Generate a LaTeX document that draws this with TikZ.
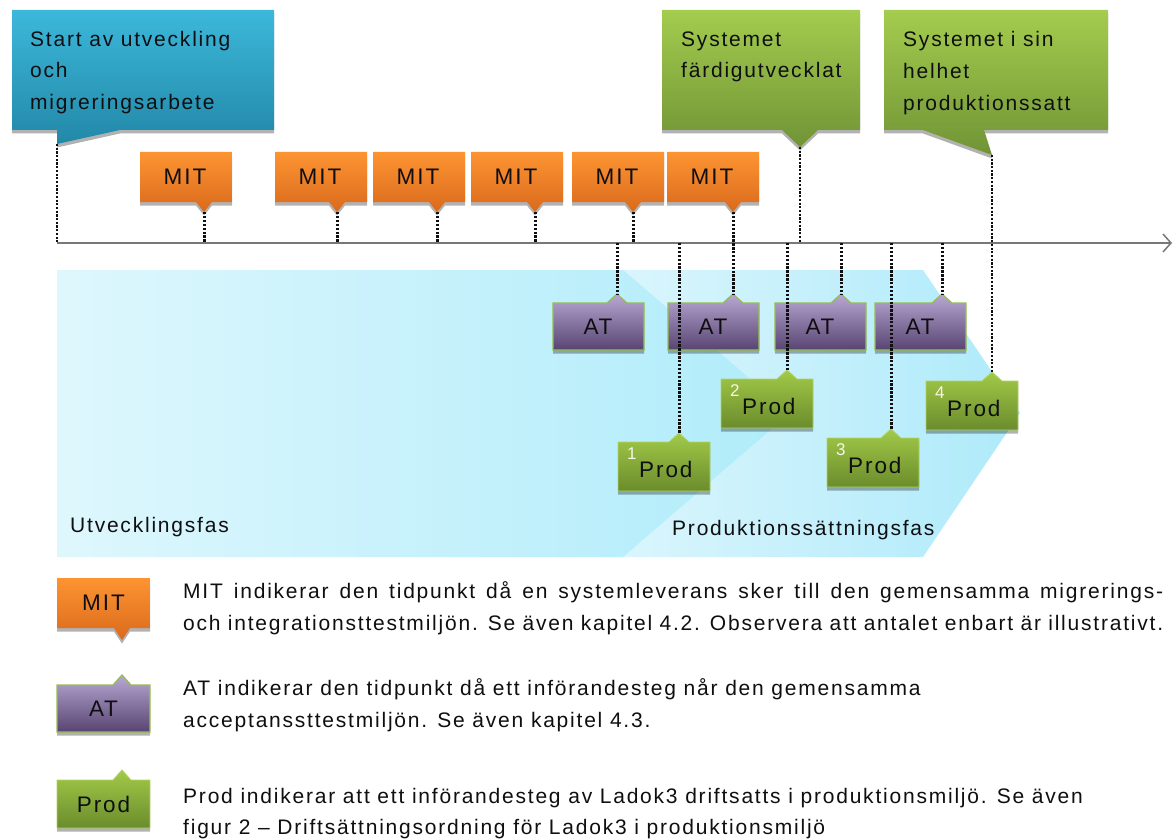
\documentclass[tikz,border=0pt]{standalone}
\usepackage{fontspec}
\setmainfont{Liberation Sans}[LetterSpace=8.5]
\usetikzlibrary{arrows.meta,shadows}

\definecolor{blT}{RGB}{60,184,218}
\definecolor{blB}{RGB}{34,136,168}
\definecolor{grT}{RGB}{164,204,78}
\definecolor{grB}{RGB}{112,148,54}
\definecolor{orT}{RGB}{253,148,50}
\definecolor{orB}{RGB}{218,106,28}
\definecolor{puT}{RGB}{184,168,210}
\definecolor{puB}{RGB}{88,68,114}
\definecolor{puE}{RGB}{150,190,80}
\definecolor{prT}{RGB}{162,202,72}
\definecolor{prB}{RGB}{106,140,44}
\definecolor{prE}{RGB}{176,212,100}
\definecolor{bgL}{RGB}{222,247,253}
\definecolor{bgR}{RGB}{176,236,250}
\definecolor{bgtL}{RGB}{220,246,253}
\definecolor{bgtR}{RGB}{174,234,250}
\definecolor{ink}{RGB}{15,15,18}
\definecolor{axc}{RGB}{120,120,120}
\definecolor{numc}{RGB}{246,246,232}

\newcommand{\ftext}{\fontsize{21}{32}\selectfont}
\newcommand{\flbl}{\fontsize{22.5}{22.5}\selectfont}
\newcommand{\fnum}{\fontsize{17}{17}\selectfont}

% #1 style, #2 left, #3 top, #4 right, #5 bottom, #6 base-left x, #7 tip x, #8 tip y, #9 base-right x
\newcommand{\tagdown}[9]{\path[#1] (#2,#3) -- (#4,#3) -- (#4,#5) -- (#9,#5) -- (#7,#8) -- (#6,#5) -- (#2,#5) -- cycle;}
\newcommand{\tagup}[9]{\path[#1] (#2,#5) -- (#2,#3) -- (#6,#3) -- (#7,#8) -- (#9,#3) -- (#4,#3) -- (#4,#5) -- cycle;}

\tikzset{
  shad/.style={drop shadow={shadow xshift=0pt,shadow yshift=-3.5pt,fill=black,opacity=0.3}},
  calloutB/.style={shad, top color=blT, bottom color=blB},
  calloutG/.style={shad, top color=grT, bottom color=grB},
  mitshape/.style={shad, top color=orT, bottom color=orB},
  atshape/.style={shad, top color=puT, bottom color=puB, draw=puE, line width=1.2pt},
  prodshape/.style={shad, top color=prT, bottom color=prB, draw=prE, line width=0.8pt},
  txt/.style={font=\ftext, text=ink, inner sep=0pt, anchor=base west},
  lbl/.style={font=\flbl, text=ink, inner sep=0pt},
  num/.style={font=\fnum, text=numc, inner sep=0pt, anchor=base west},
  dotline/.style={draw=ink, line width=3pt, dash pattern=on 2.4pt off 1.5pt},
  thindot/.style={draw=ink, line width=2.3pt, dash pattern=on 2.2pt off 1.5pt},
  axisline/.style={draw=axc, line width=1.5pt},
}

\newcommand{\mitmark}[3]{%
  \tagdown{mitshape}{#2}{152}{#2+92}{202}{#3-8}{#3}{212}{#3+8}
  \node[lbl] (#1) at (#2+45,177) {MIT};
  \coordinate (#1t) at (#3,212);}
\newcommand{\atmark}[3]{%
  \tagup{atshape}{#2}{303}{#2+91}{350}{#3-10}{#3}{294}{#3+10}
  \node[lbl] (#1) at (#2+45,327) {AT};
  \coordinate (#1t) at (#3,294);}
\newcommand{\prodmark}[5]{%
  \tagup{prodshape}{#2}{#3}{#2+92}{#3+49}{#4-10}{#4}{#3-9}{#4+10}
  \node[num] (#1n) at (#2+9,#3+17) {#5};
  \node[txt,font=\flbl] (#1) at (#2+21,#3+35) {Prod};
  \coordinate (#1t) at (#4,#3-9);}

\begin{document}
\begin{tikzpicture}[x=1pt,y=-1pt]
\useasboundingbox (0,0) rectangle (1173,840);
\fill[white] (0,0) rectangle (1173,840);

% phase backgrounds
\path[left color=bgtL, right color=bgtR] (600,270) -- (923,270) -- (1020,413) -- (923,557) -- (600,557) -- cycle;
\path[left color=bgL, right color=bgR] (57,270) -- (623,270) -- (790,413) -- (623,557) -- (57,557) -- cycle;
\node[txt] (utv) at (70,532) {Utvecklingsfas};
\node[txt] (prodfas) at (672,535) {Produktionssättningsfas};

% time axis
\coordinate (axL) at (57,243);
\coordinate (axR) at (1172,243);
\draw[axisline, -{Straight Barb[length=8pt,width=18pt]}] (axL) -- (axR);

% callouts
\tagdown{calloutB}{12}{10}{274}{130}{57}{57}{144}{120}
\coordinate (bt) at (57,144);
\node[txt] (start1) at (30,47) {Start av utveckling};
\node[txt] (start2) at (30,78) {och};
\node[txt] (start3) at (30,110) {migreringsarbete};

\tagdown{calloutG}{662}{10}{860}{130}{782}{800}{147}{818}
\coordinate (g1t) at (800,147);
\node[txt] (sys1a) at (681,47) {Systemet};
\node[txt] (sys1b) at (681,78) {färdigutvecklat};

\tagdown{calloutG}{884}{10}{1108}{130}{923}{992}{155}{984}
\coordinate (g2t) at (992,155);
\node[txt] (sys2a) at (903,47) {Systemet i sin};
\node[txt] (sys2b) at (903,79) {helhet};
\node[txt] (sys2c) at (903,111) {produktionssatt};

% MIT deliveries
\mitmark{mitA}{140}{204}
\mitmark{mitB}{275}{337}
\mitmark{mitC}{373}{437}
\mitmark{mitD}{471}{535}
\mitmark{mitE}{572}{633}
\mitmark{mitF}{667}{733}

% AT steps
\atmark{atA}{553}{617}
\atmark{atB}{668}{733}
\atmark{atC}{775}{841}
\atmark{atD}{875}{942}

% Prod steps
\prodmark{prA}{618}{442}{679}{1}
\prodmark{prB}{721}{379}{787}{2}
\prodmark{prC}{827}{438}{891}{3}
\prodmark{prD}{926}{381}{992}{4}

% dotted connectors
\draw[thindot] (bt) -- (bt |- axL);
\draw[dotline] (mitAt) -- (mitAt |- axL);
\draw[dotline] (mitBt) -- (mitBt |- axL);
\draw[dotline] (mitCt) -- (mitCt |- axL);
\draw[dotline] (mitDt) -- (mitDt |- axL);
\draw[dotline] (mitEt) -- (mitEt |- axL);
\draw[dotline] (mitFt) -- (atBt);
\draw[dotline] (atAt |- axL) -- (atAt);
\draw[dotline] (prAt |- axL) -- (prAt);
\draw[thindot] (g1t) -- (g1t |- axL);
\draw[dotline] (prBt |- axL) -- (prBt);
\draw[dotline] (atCt |- axL) -- (atCt);
\draw[dotline] (prCt |- axL) -- (prCt);
\draw[dotline] (atDt |- axL) -- (atDt);
\draw[thindot] (g2t) -- (prDt);

% legend
\tagdown{mitshape}{57}{578}{150}{628}{114}{122}{640}{130}
\node[lbl] (legmit) at (103.5,603) {MIT};
\tagup{atshape}{57}{685}{150}{732}{113}{122}{675}{131}
\node[lbl] (legat) at (103.5,708.5) {AT};
\tagup{prodshape}{57}{780}{150}{828}{113}{122}{770}{131}
\node[lbl] (legprod) at (103.5,804) {Prod};

\node[txt] (m1) at (183,598) {\makebox[980pt][s]{MIT indikerar den tidpunkt då en systemleverans sker till den gemensamma migrerings-}};
\node[txt] (m2) at (183,630) {\makebox[980pt][s]{och integrationsttestmiljön. Se även kapitel 4.2. Observera att antalet enbart är illustrativt.}};
\node[txt] (a1) at (183,695) {AT indikerar den tidpunkt då ett införandesteg når den gemensamma};
\node[txt] (a2) at (183,727) {acceptanssttestmiljön. Se även kapitel 4.3.};
\node[txt] (p1) at (183,803) {Prod indikerar att ett införandesteg av Ladok3 driftsatts i produktionsmiljö. Se även};
\node[txt] (p2) at (183,834) {figur 2 – Driftsättningsordning för Ladok3 i produktionsmiljö};
\end{tikzpicture}
\end{document}
